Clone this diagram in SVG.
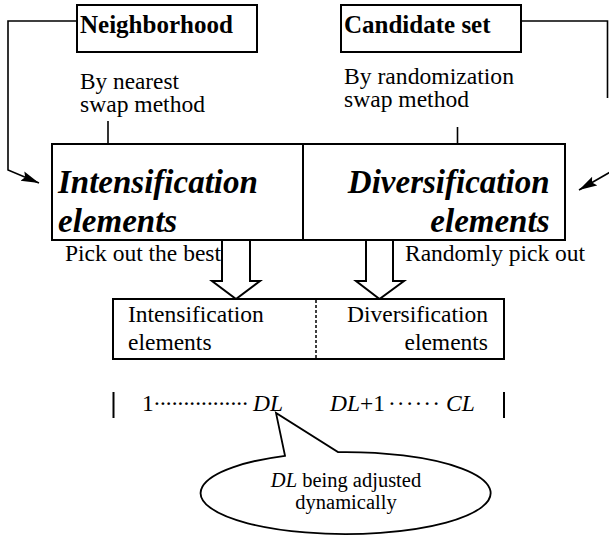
<svg xmlns="http://www.w3.org/2000/svg" width="609" height="535" viewBox="0 0 609 535">
<defs>
<style>
.t{font-family:"Liberation Serif","Times New Roman",serif;fill:#000}
.r{font-size:23.5px}
.l{font-size:22.5px}
.b{font-size:25px;font-weight:bold}
.bi{font-size:33px;font-weight:bold;font-style:italic}
.s{font-size:20.5px}
.i{font-style:italic}
.box{fill:#fff;stroke:#000;stroke-width:2}
.ln{fill:none;stroke:#000;stroke-width:1.6}
.blk{fill:#fff;stroke:#000;stroke-width:2;stroke-linejoin:miter}
</style>
<marker id="ah" markerUnits="userSpaceOnUse" markerWidth="20" markerHeight="12" refX="18" refY="5" orient="auto">
<path d="M0,0 L18,5 L0,10 L3,5 z" fill="#000"/>
</marker>
</defs>
<rect width="609" height="535" fill="#fff"/>

<g id="connectors">
<path class="ln" d="M77,21 H8 V170 L39,183" marker-end="url(#ah)"/>
<path class="ln" d="M521,21 H607.5 V98 M612,171 L579,190" marker-end="url(#ah)"/>
<path class="ln" d="M108,121 V150"/>
<path class="ln" d="M457.5,127 V148"/>
</g>

<g id="neighborhood">
<rect class="box" x="77" y="5" width="180" height="47"/>
<text class="t b" x="80" y="33">Neighborhood</text>
</g>
<g id="candidate">
<rect class="box" x="341" y="5" width="180" height="47"/>
<text class="t b" x="344" y="33">Candidate set</text>
</g>

<g id="label-nearest">
<text class="t l" x="80" y="89" textLength="99" lengthAdjust="spacingAndGlyphs">By nearest</text>
<text class="t l" x="80" y="112" textLength="125" lengthAdjust="spacingAndGlyphs">swap method</text>
</g>
<g id="label-random">
<text class="t l" x="344" y="84" textLength="170" lengthAdjust="spacingAndGlyphs">By randomization</text>
<text class="t l" x="344" y="107" textLength="125" lengthAdjust="spacingAndGlyphs">swap method</text>
</g>

<g id="main-box">
<rect class="box" x="52" y="144" width="513" height="96"/>
<line x1="303" y1="144" x2="303" y2="240" stroke="#000" stroke-width="2"/>
<text class="t bi" x="58" y="193">Intensification</text>
<text class="t bi" x="58" y="232">elements</text>
<text class="t bi" x="549.5" y="193" text-anchor="end">Diversification</text>
<text class="t bi" x="549.5" y="232" text-anchor="end">elements</text>
</g>

<g id="arrow-best">
<polygon class="blk" points="222,240 250,240 250,281 260,281 236,299 212,281 222,281"/>
<text class="t r" x="221" y="261" text-anchor="end">Pick out the best</text>
</g>
<g id="arrow-random">
<polygon class="blk" points="366,240 393,240 393,281 404,281 379.5,299 356,281 366,281"/>
<text class="t r" x="405" y="261">Randomly pick out</text>
</g>

<g id="result-box">
<rect class="box" x="113" y="299" width="391" height="60"/>
<line x1="316" y1="300" x2="316" y2="358" stroke="#000" stroke-width="1.5" stroke-dasharray="3,2"/>
<text class="t r" x="128" y="322">Intensification</text>
<text class="t r" x="128" y="350">elements</text>
<text class="t r" x="488" y="322" text-anchor="end">Diversification</text>
<text class="t r" x="488" y="350" text-anchor="end">elements</text>
</g>

<g id="scale">
<line x1="113.5" y1="392" x2="113.5" y2="418" stroke="#000" stroke-width="2"/>
<line x1="504" y1="392" x2="504" y2="418" stroke="#000" stroke-width="2"/>
<text class="t r" y="411"><tspan x="142">1</tspan><tspan x="153" textLength="96" lengthAdjust="spacing">················</tspan><tspan x="253" class="i">DL</tspan><tspan x="330" class="i">DL</tspan><tspan>+1</tspan><tspan x="388" textLength="52" lengthAdjust="spacing">······</tspan><tspan x="446" class="i">CL</tspan></text>
</g>

<g id="callout">
<path d="M285,455.8 L276,413 L338,452.1 A145,41 0 1 1 285,455.8 Z" fill="#fff" stroke="#000" stroke-width="1.8"/>
<text class="t s" x="346" y="487" text-anchor="middle"><tspan class="i">DL</tspan> being adjusted</text>
<text class="t s" x="346" y="509" text-anchor="middle">dynamically</text>
</g>
</svg>
